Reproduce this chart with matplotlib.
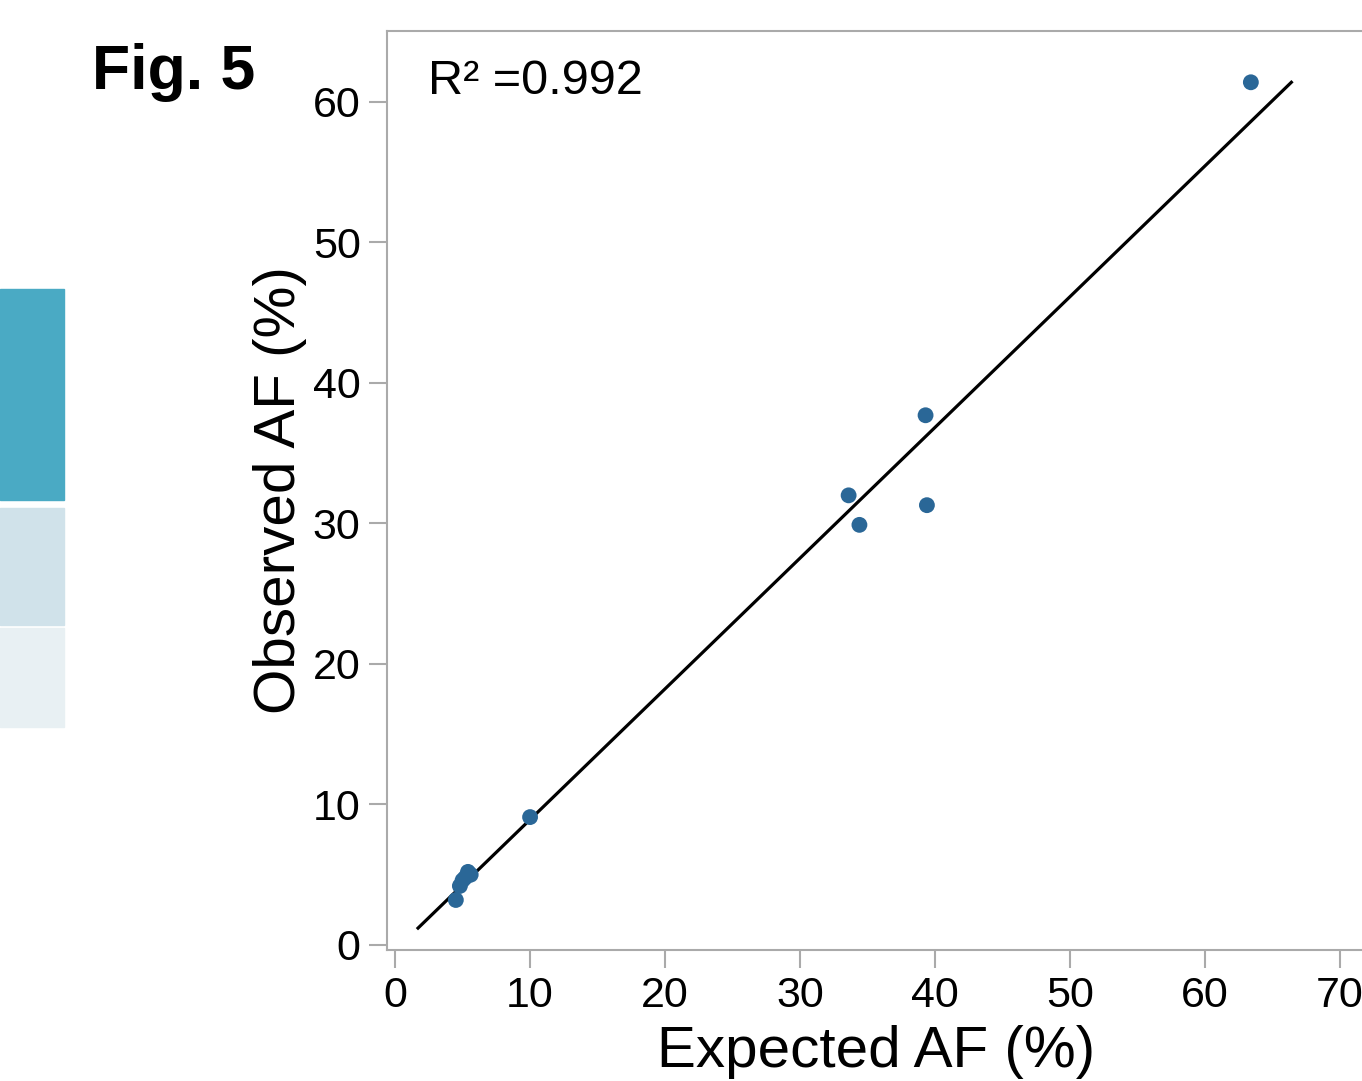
import numpy as np
import matplotlib.pyplot as plt
from matplotlib.patches import Rectangle

plt.rcParams["font.family"] = ["Liberation Sans", "DejaVu Sans"]

# expected vs observed allele frequency (%)
expected = [63.4, 39.3, 33.6, 34.4, 39.4, 10.0, 4.5, 4.8, 5.0, 5.2, 5.6, 5.4]
observed = [61.4, 37.7, 32.0, 29.9, 31.3, 9.1, 3.2, 4.2, 4.6, 4.8, 5.0, 5.2]

# fitted line endpoints
fit_x = [1.7, 66.4]
fit_y = [1.2, 61.4]
r2 = 0.992

xticks = [0, 10, 20, 30, 40, 50, 60, 70]
yticks = [0, 10, 20, 30, 40, 50, 60]

fig = plt.figure(figsize=(13.62, 10.81), dpi=100)

# leftover panel from the neighbouring figure (coloured blocks at the left edge)
fig.patches.append(Rectangle((0, 1 - 500 / 1081), 64 / 1362, 211 / 1081,
                             transform=fig.transFigure, color="#4aaac4", zorder=0))
fig.patches.append(Rectangle((0, 1 - 625 / 1081), 64 / 1362, 117 / 1081,
                             transform=fig.transFigure, color="#d0e2ea", zorder=0))
fig.patches.append(Rectangle((0, 1 - 727 / 1081), 64 / 1362, 99 / 1081,
                             transform=fig.transFigure, color="#e8f0f3", zorder=0))

ax = fig.add_axes([387 / 1362, 131 / 1081, 0.7294, 919 / 1081])

ax.plot(fit_x, fit_y, color="black", lw=2.3, zorder=2)
ax.scatter(expected, observed, s=130, color="#2a6797", edgecolors="none", zorder=3)

ax.set_xlim(-0.6, 73)
ax.set_ylim(-0.36, 65.05)
ax.set_xticks(xticks)
ax.set_yticks(yticks)
ax.tick_params(labelsize=31, length=13, width=1.5, color="#aaaaaa", pad=6)

for s in ax.spines.values():
    s.set_color("#aaaaaa")
    s.set_linewidth(1.5)

ax.set_xlabel("Expected AF (%)", fontsize=42)
ax.xaxis.set_label_coords(0.4925, -0.082)
ax.set_ylabel("Observed AF (%)", fontsize=42, labelpad=4)

ax.text(0.041, 0.945, "R² =" + f"{r2:.3f}", transform=ax.transAxes,
        fontsize=35, va="center", ha="left")

fig.text(92 / 1362, 1 - 72 / 1081, "Fig. 5", fontsize=45, fontweight="bold",
         va="center", ha="left")

fig.savefig("out.png", dpi=100)
